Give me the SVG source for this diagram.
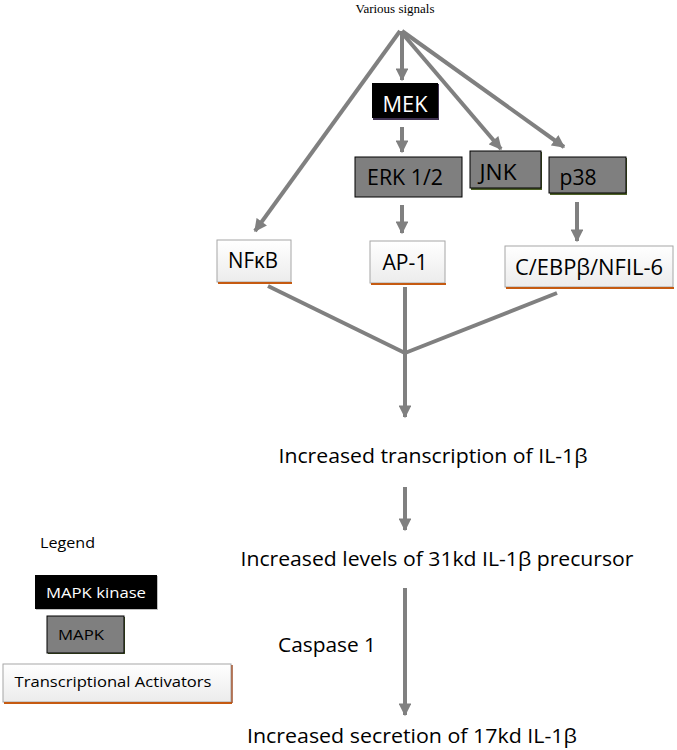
<svg xmlns="http://www.w3.org/2000/svg" width="677" height="750" viewBox="0 0 677 750">
<style>
.conn{stroke:#808080;stroke-width:4;fill:none}
.t{font-family:"Open Sans","Noto Sans","Liberation Sans",sans-serif;fill:#000}
.box-b{fill:#000}
.box-g{fill:#7f7f7f;stroke:#000;stroke-width:1}
.box-w{fill:url(#wg);stroke:#a6a6a6;stroke-width:1}
.orange{stroke:#c55a11;stroke-width:2}
.lbl{font-family:"Open Sans","Noto Sans","Liberation Sans",sans-serif;font-size:21px;fill:#000}
</style>
<defs>
<linearGradient id="wg" x1="0" y1="0" x2="0" y2="1"><stop offset="0" stop-color="#ffffff"/><stop offset="1" stop-color="#ececec"/></linearGradient>
<marker id="ah" viewBox="0 0 10 10" refX="9" refY="5" markerWidth="3.4" markerHeight="3.2" orient="auto" markerUnits="strokeWidth"><path d="M0,0 L10,5 L0,10 z" fill="#808080"/></marker>
</defs>

<text x="395" y="13" text-anchor="middle" font-family="Liberation Serif,serif" font-size="13">Various signals</text>

<g id="connectors">
<line class="conn" x1="402" y1="31" x2="402" y2="80" marker-end="url(#ah)"/>
<line class="conn" x1="400" y1="31" x2="255" y2="231" marker-end="url(#ah)"/>
<line class="conn" x1="402" y1="33" x2="501" y2="149" marker-end="url(#ah)"/>
<line class="conn" x1="402" y1="31" x2="564" y2="147" marker-end="url(#ah)"/>
<line class="conn" x1="402" y1="127" x2="402" y2="152" marker-end="url(#ah)"/>
<line class="conn" x1="402" y1="205" x2="402" y2="233" marker-end="url(#ah)"/>
<line class="conn" x1="577" y1="202" x2="577" y2="241" marker-end="url(#ah)"/>
<line class="conn" x1="268" y1="286" x2="405" y2="353"/>
<line class="conn" x1="557" y1="293" x2="405" y2="353"/>
<line class="conn" x1="405" y1="287" x2="405" y2="417" marker-end="url(#ah)"/>
<line class="conn" x1="405" y1="487" x2="405" y2="530" marker-end="url(#ah)"/>
<line class="conn" x1="405" y1="588" x2="405" y2="715" marker-end="url(#ah)"/>
</g>

<g id="mek">
<rect x="373" y="84" width="66" height="36" fill="#3f3151"/>
<rect class="box-b" x="372" y="83" width="66" height="35"/>
<text class="lbl" x="405" y="112" text-anchor="middle" style="fill:#fff" textLength="45" lengthAdjust="spacingAndGlyphs">MEK</text>
</g>
<g id="erk">
<rect class="box-g" x="355" y="157" width="107" height="40"/>
<text class="lbl" x="405" y="185" text-anchor="middle" textLength="76" lengthAdjust="spacingAndGlyphs">ERK 1/2</text>
</g>
<g id="jnk">
<rect x="471" y="152" width="71" height="38" fill="#4f6228"/>
<rect class="box-g" x="470" y="151" width="71" height="37"/>
<text class="lbl" x="498" y="180" text-anchor="middle" textLength="37" lengthAdjust="spacingAndGlyphs">JNK</text>
</g>
<g id="p38">
<rect x="550" y="158" width="77" height="37" fill="#4f6228"/>
<rect class="box-g" x="549" y="157" width="77" height="36"/>
<text class="lbl" x="578" y="185" text-anchor="middle" textLength="37" lengthAdjust="spacingAndGlyphs">p38</text>
</g>
<g id="nfkb">
<rect class="box-w" x="217" y="240" width="74" height="42"/>
<line class="orange" x1="218" y1="283" x2="292" y2="283"/>
<text class="lbl" x="253" y="268" text-anchor="middle" textLength="50" lengthAdjust="spacingAndGlyphs">NFκB</text>
</g>
<g id="ap1">
<rect class="box-w" x="370" y="241" width="75" height="42"/>
<line class="orange" x1="371" y1="284" x2="446" y2="284"/>
<text class="lbl" x="405" y="270" text-anchor="middle" textLength="45" lengthAdjust="spacingAndGlyphs">AP-1</text>
</g>
<g id="cebp">
<rect class="box-w" x="505" y="246" width="168" height="41"/>
<line class="orange" x1="506" y1="288" x2="674" y2="288"/>
<text class="lbl" x="589" y="275" text-anchor="middle" textLength="148" lengthAdjust="spacingAndGlyphs">C/EBPβ/NFIL-6</text>
</g>

<g id="transcription">
<text class="t" x="433" y="463" text-anchor="middle" font-size="20" textLength="309" lengthAdjust="spacingAndGlyphs">Increased transcription of IL-1β</text>
</g>
<g id="precursor">
<text class="t" x="437" y="566" text-anchor="middle" font-size="20" textLength="393" lengthAdjust="spacingAndGlyphs">Increased levels of 31kd IL-1β precursor</text>
</g>
<g id="caspase">
<text class="t" x="327" y="652" text-anchor="middle" font-size="20" textLength="98" lengthAdjust="spacingAndGlyphs">Caspase 1</text>
</g>
<g id="secretion">
<text class="t" x="412" y="743" text-anchor="middle" font-size="20" textLength="330" lengthAdjust="spacingAndGlyphs">Increased secretion of 17kd IL-1β</text>
</g>

<g id="legend">
<text class="t" x="40" y="548" font-size="14" textLength="55" lengthAdjust="spacingAndGlyphs">Legend</text>
<rect x="36" y="576" width="122" height="34" fill="#bfbfbf"/>
<rect class="box-b" x="35" y="575" width="122" height="34"/>
<text class="t" x="96" y="598" text-anchor="middle" font-size="15" style="fill:#fff" textLength="100" lengthAdjust="spacingAndGlyphs">MAPK kinase</text>
<rect x="48" y="617" width="77" height="37" fill="#4f6228"/>
<rect class="box-g" x="47" y="616" width="77" height="37"/>
<text class="t" x="81" y="640" text-anchor="middle" font-size="15" textLength="46" lengthAdjust="spacingAndGlyphs">MAPK</text>
<rect class="box-w" x="3" y="664" width="228" height="38"/>
<line class="orange" x1="4" y1="703" x2="232" y2="703"/>
<line stroke="#a0522d" stroke-width="1.5" x1="232" y1="665" x2="232" y2="703"/>
<text class="t" x="113" y="687" text-anchor="middle" font-size="15" textLength="197" lengthAdjust="spacingAndGlyphs">Transcriptional Activators</text>
</g>
</svg>
